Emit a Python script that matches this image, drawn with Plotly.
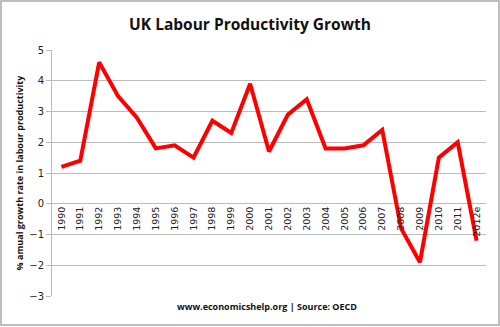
import plotly.graph_objects as go

years = ["1990", "1991", "1992", "1993", "1994", "1995", "1996", "1997", "1998", "1999",
         "2000", "2001", "2002", "2003", "2004", "2005", "2006", "2007", "2008", "2009",
         "2010", "2011", "2012e"]
growth = [1.2, 1.4, 4.6, 3.5, 2.8, 1.8, 1.9, 1.5, 2.7, 2.3,
          3.9, 1.7, 2.9, 3.4, 1.8, 1.8, 1.9, 2.4, -0.8, -1.9,
          1.5, 2.0, -1.2]
y_ticks = [-3, -2, -1, 0, 1, 2, 3, 4, 5]

W, H = 500, 327
ml, mr, mt, mb = 52, 14, 50, 31
pw, ph = W - ml - mr, H - mt - mb

fig = go.Figure()
fig.add_trace(go.Scatter(x=years, y=growth, mode="lines",
                         line=dict(color="#ff0000", width=4), hoverinfo="skip"))

grid = "#bcbcbc"
fig.update_layout(
    width=W, height=H,
    margin=dict(l=ml, r=mr, t=mt, b=mb),
    paper_bgcolor="white", plot_bgcolor="white",
    showlegend=False,
    font=dict(family="Verdana, DejaVu Sans, sans-serif", color="#222222"),
    title=dict(text="<b>UK Labour Productivity Growth</b>", x=0.5, xanchor="center",
               y=1 - 25 / H, yanchor="middle",
               font=dict(family="Open Sans, sans-serif", size=15.5, color="#111111")),
    xaxis=dict(type="category", range=[-0.5, len(years) - 0.5],
               anchor="free", position=3 / 8,
               tickangle=-90, tickfont=dict(size=9.5, color="#222222"),
               showgrid=False, showline=False, ticks="", zeroline=False),
    yaxis=dict(range=[-3, 5], tickvals=y_ticks, showgrid=True, gridcolor=grid, gridwidth=1,
               zeroline=True, zerolinecolor=grid, zerolinewidth=1,
               showline=True, linecolor=grid, linewidth=1,
               ticks="outside", ticklen=5, tickcolor=grid,
               tickfont=dict(size=10, color="#222222"),
               title=dict(text="<b>% amual growth rate in labour productivity</b>", standoff=4,
                          font=dict(family="Open Sans, sans-serif", size=9, color="#111111"))),
)

fig.add_annotation(text="<b>www.economicshelp.org | Source: OECD</b>",
                   xref="paper", yref="paper",
                   x=(267 - ml) / pw, y=(H - mb - 306) / ph,
                   xanchor="center", yanchor="middle", showarrow=False,
                   font=dict(family="Open Sans, sans-serif", size=9, color="#111111"))

fig.add_shape(type="rect", xref="paper", yref="paper",
              x0=(1 - ml) / pw, x1=(W - 1 - ml) / pw,
              y0=(H - mb - (H - 2)) / ph, y1=(H - mb - 1) / ph,
              line=dict(color="#a8a8a8", width=1.5), fillcolor="rgba(0,0,0,0)", layer="below")

fig.write_html("out.html")
